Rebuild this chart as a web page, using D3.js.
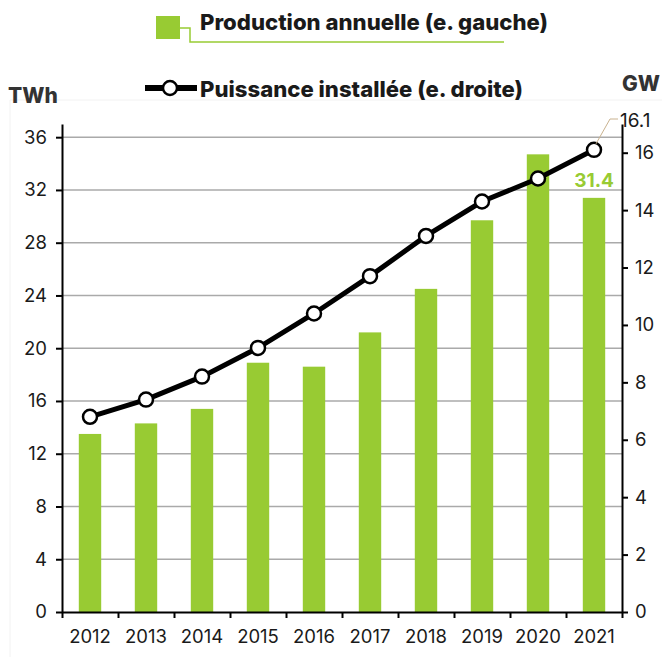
<!DOCTYPE html>
<html>
<head>
<meta charset="utf-8">
<script src="https://cdn.jsdelivr.net/npm/d3@7"></script>
<style>
  body { margin: 0; background: #fff; }
  text { font-family: Inter, "Open Sans", sans-serif; fill: #1a1a1a; }
</style>
</head>
<body>
<div id="chart"></div>
<script>
// data
var years = ["2012", "2013", "2014", "2015", "2016", "2017", "2018", "2019", "2020", "2021"];
var production = [13.5, 14.3, 15.4, 18.9, 18.6, 21.2, 24.5, 29.7, 34.7, 31.4];   // TWh, left axis
var capacity = [6.8, 7.4, 8.2, 9.2, 10.4, 11.7, 13.1, 14.3, 15.1, 16.1];         // GW, right axis
var leftTicks = [0, 4, 8, 12, 16, 20, 24, 28, 32, 36];
var rightTicks = [0, 2, 4, 6, 8, 10, 12, 14, 16];
var legendLabels = ["Production annuelle (e. gauche)", "Puissance installée (e. droite)"];

var width = 662, height = 657;
var green = "#98cb33";

var svg = d3.select("#chart")
	.append("svg")
	.attr("width", width)
	.attr("height", height);

var plotLeft = 62, plotRight = 622, plotTop = 124, plotBottom = 612;

// faint frame
svg.append("path")
	.attr("d", "M10,657V100H662")
	.attr("fill", "none")
	.attr("stroke", "#f2f2f2")
	.attr("stroke-width", 1);

var x = d3.scaleBand().domain(years).range([plotLeft, plotRight]).paddingInner(0.6).paddingOuter(0.3);
var xEdge = d3.scaleLinear().domain([0, years.length]).range([plotLeft, plotRight]);
var yL = d3.scaleLinear().domain([0, 37]).range([plotBottom, plotTop]);
var yR = d3.scaleLinear().domain([0, 17]).range([plotBottom, plotTop]);

// gridlines
svg.append("g")
	.selectAll("line")
	.data(leftTicks.slice(1))
	.enter()
		.append("line")
		.attr("x1", plotLeft)
		.attr("x2", plotRight)
		.attr("y1", function(d) { return yL(d); })
		.attr("y2", function(d) { return yL(d); })
		.attr("stroke", "#aaaaaa")
		.attr("stroke-width", 1.5);

// bars
svg.append("g")
	.selectAll("rect")
	.data(production)
	.enter()
		.append("rect")
		.attr("x", function(d, i) { return x(years[i]); })
		.attr("y", function(d) { return yL(d); })
		.attr("width", x.bandwidth())
		.attr("height", function(d) { return yL(0) - yL(d); })
		.attr("fill", green);

// axes
function styleAxis(g) {
	g.select(".domain").attr("stroke", "#000").attr("stroke-width", 2);
	g.selectAll(".tick line").attr("stroke", "#000").attr("stroke-width", 2);
	g.selectAll(".tick text").attr("font-size", 18.5).attr("fill", "#1a1a1a");
}

svg.append("g")
	.attr("transform", "translate(" + plotLeft + ",0)")
	.call(d3.axisLeft(yL).tickValues(leftTicks).tickSize(6).tickSizeOuter(0).tickPadding(9))
	.call(styleAxis);

svg.append("g")
	.attr("transform", "translate(" + plotRight + ",0)")
	.call(d3.axisRight(yR).tickValues(rightTicks).tickSize(6).tickSizeOuter(0).tickPadding(7))
	.call(styleAxis);

svg.append("g")
	.attr("transform", "translate(0," + plotBottom + ")")
	.call(d3.axisBottom(xEdge).tickValues(d3.range(years.length + 1)).tickFormat("").tickSize(6).tickSizeOuter(0))
	.call(styleAxis);

svg.append("g")
	.attr("transform", "translate(0," + plotBottom + ")")
	.call(d3.axisBottom(x).tickSize(0).tickPadding(18))
	.call(function(g) {
		g.select(".domain").remove();
		g.selectAll(".tick text").attr("font-size", 18.5).attr("fill", "#1a1a1a");
	});

// capacity line
var line = d3.line()
	.x(function(d, i) { return x(years[i]) + x.bandwidth() / 2; })
	.y(function(d) { return yR(d); });

svg.append("path")
	.datum(capacity)
	.attr("d", line)
	.attr("fill", "none")
	.attr("stroke", "#000")
	.attr("stroke-width", 5);

svg.append("g")
	.selectAll("circle")
	.data(capacity)
	.enter()
		.append("circle")
		.attr("cx", function(d, i) { return x(years[i]) + x.bandwidth() / 2; })
		.attr("cy", function(d) { return yR(d); })
		.attr("r", 7)
		.attr("fill", "#fff")
		.attr("stroke", "#000")
		.attr("stroke-width", 2.5);

// value labels for last year
var last = years.length - 1;
var lastX = x(years[last]) + x.bandwidth() / 2;

svg.append("text")
	.attr("x", lastX)
	.attr("y", yL(production[last]) - 11)
	.attr("text-anchor", "middle")
	.attr("font-size", 19)
	.attr("font-weight", 700)
	.style("fill", green)
	.text(production[last]);

svg.append("path")
	.attr("d", "M" + (lastX + 2) + "," + (yR(capacity[last]) - 6) + "L" + (lastX + 16) + "," + 119 + "H" + (lastX + 24))
	.attr("fill", "none")
	.attr("stroke", "#c9b28f")
	.attr("stroke-width", 1);

svg.append("text")
	.attr("x", lastX + 26)
	.attr("y", 127)
	.attr("font-size", 19)
	.text(capacity[last]);

// unit labels
svg.append("text")
	.attr("x", 8)
	.attr("y", 103)
	.attr("font-size", 21)
	.attr("font-weight", 800)
	.style("fill", "#333")
	.text("TWh");

svg.append("text")
	.attr("x", 622)
	.attr("y", 91)
	.attr("font-size", 21)
	.attr("font-weight", 800)
	.style("fill", "#333")
	.text("GW");

// legend
var legend = svg.append("g");

legend.append("rect")
	.attr("x", 156).attr("y", 16)
	.attr("width", 24).attr("height", 23)
	.attr("fill", green);

legend.append("path")
	.attr("d", "M180,28H190V42H504")
	.attr("fill", "none")
	.attr("stroke", green)
	.attr("stroke-width", 1.5);

legend.append("text")
	.attr("x", 200).attr("y", 30)
	.attr("font-size", 22)
	.attr("font-weight", 800)
	.attr("textLength", 348)
	.attr("lengthAdjust", "spacingAndGlyphs")
	.text(legendLabels[0]);

legend.append("line")
	.attr("x1", 145).attr("x2", 197)
	.attr("y1", 88).attr("y2", 88)
	.attr("stroke", "#000")
	.attr("stroke-width", 6);

legend.append("circle")
	.attr("cx", 170).attr("cy", 88)
	.attr("r", 7)
	.attr("fill", "#fff")
	.attr("stroke", "#000")
	.attr("stroke-width", 2.5);

legend.append("text")
	.attr("x", 200).attr("y", 97)
	.attr("font-size", 22)
	.attr("font-weight", 800)
	.attr("textLength", 323)
	.attr("lengthAdjust", "spacingAndGlyphs")
	.text(legendLabels[1]);
</script>
</body>
</html>
